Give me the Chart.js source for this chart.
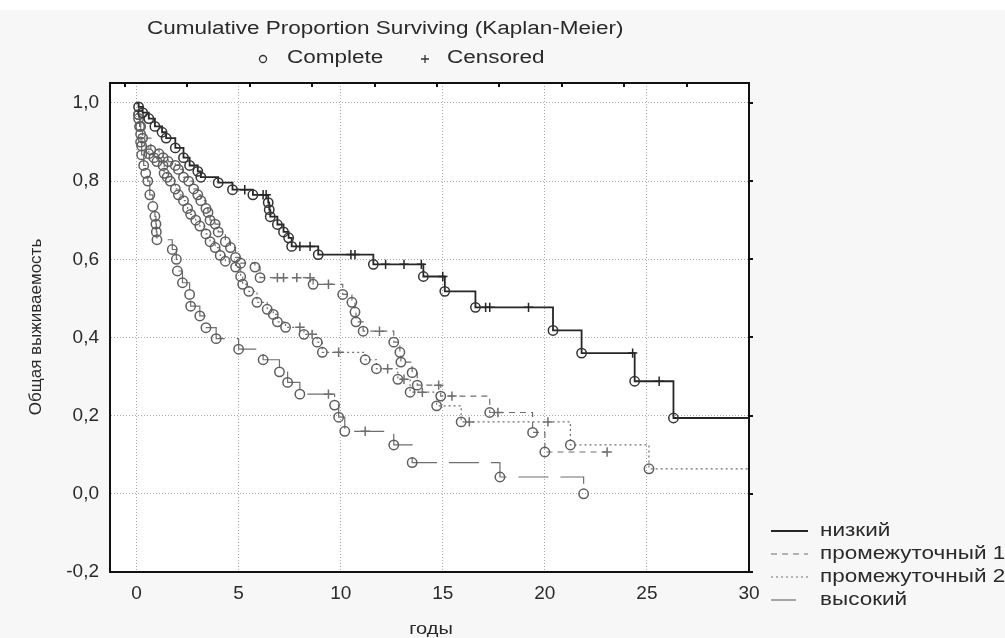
<!DOCTYPE html>
<html>
<head>
<meta charset="utf-8">
<script src="https://cdn.jsdelivr.net/npm/chart.js@4.4.0/dist/chart.umd.min.js"></script>
<style>
  html, body { margin: 0; padding: 0; background: #f7f7f7; }
  #wrap { width: 1005px; height: 638px; position: relative; }
</style>
</head>
<body>
<div id="wrap"><canvas id="km"></canvas></div>
<script>
// Kaplan-Meier data: time (years), survival, mark ('o' event, '+' censored, '' none)
const lowTime = [0, 0.1, 0.3, 0.6, 0.9, 1.25, 1.45, 1.9, 2.3, 2.6, 3.0, 3.15, 4.0, 4.7, 5.3, 5.7, 6.2, 6.35, 6.45, 6.5, 6.55, 6.9, 7.2, 7.45, 7.6, 8.0, 8.5, 8.9, 10.5, 10.7, 11.6, 12.2, 13.1, 13.95, 14.05, 15.0, 15.1, 16.6, 17.1, 17.3, 19.2, 20.4, 21.8, 24.3, 24.4, 25.6, 26.3, 30];
const lowSurv = [1.0, 0.99, 0.975, 0.96, 0.94, 0.925, 0.91, 0.885, 0.86, 0.84, 0.825, 0.81, 0.796, 0.778, 0.778, 0.765, 0.765, 0.765, 0.745, 0.727, 0.709, 0.689, 0.67, 0.655, 0.633, 0.633, 0.633, 0.612, 0.612, 0.612, 0.587, 0.587, 0.587, 0.587, 0.556, 0.556, 0.518, 0.477, 0.477, 0.477, 0.477, 0.418, 0.36, 0.36, 0.288, 0.288, 0.194, 0.194];
const lowMark = ['', 'o', 'o', 'o', 'o', 'o', 'o', 'o', 'o', 'o', 'o', 'o', 'o', 'o', '+', 'o', '+', '+', 'o', 'o', 'o', 'o', 'o', 'o', 'o', '+', '+', 'o', '+', '+', 'o', '+', '+', '+', 'o', '+', 'o', 'o', '+', '+', '+', 'o', 'o', '+', 'o', '+', 'o', ''];

const mid1Time = [0, 0.1, 0.2, 0.3, 0.7, 1.1, 1.3, 1.55, 1.9, 2.05, 2.3, 2.55, 2.8, 3.0, 3.15, 3.4, 3.5, 3.6, 3.85, 4.0, 4.35, 4.6, 4.85, 5.1, 5.8, 6.05, 6.9, 7.2, 7.85, 8.5, 8.65, 9.4, 10.1, 10.55, 10.7, 10.75, 11.1, 11.9, 12.6, 12.9, 12.95, 13.5, 13.75, 14.8, 14.9, 15.45, 17.3, 17.7, 19.4, 20.0, 23.05];
const mid1Surv = [1.0, 0.97, 0.94, 0.91, 0.88, 0.87, 0.86, 0.85, 0.84, 0.83, 0.81, 0.8, 0.78, 0.765, 0.75, 0.73, 0.72, 0.7, 0.69, 0.67, 0.645, 0.63, 0.605, 0.59, 0.58, 0.553, 0.553, 0.553, 0.553, 0.553, 0.536, 0.536, 0.51, 0.49, 0.465, 0.44, 0.416, 0.416, 0.388, 0.362, 0.337, 0.31, 0.278, 0.278, 0.25, 0.25, 0.208, 0.208, 0.157, 0.107, 0.107];
const mid1Mark = ['', 'o', 'o', 'o', 'o', 'o', 'o', 'o', 'o', 'o', 'o', 'o', 'o', 'o', 'o', 'o', 'o', 'o', 'o', 'o', 'o', 'o', 'o', 'o', 'o', 'o', '+', '+', '+', '+', 'o', '+', 'o', 'o', 'o', 'o', 'o', '+', 'o', 'o', 'o', 'o', 'o', '+', 'o', '+', 'o', '+', 'o', 'o', '+'];

const mid2Time = [0, 0.1, 0.2, 0.25, 0.6, 0.85, 1.0, 1.3, 1.35, 1.5, 1.65, 1.9, 2.05, 2.3, 2.5, 2.65, 2.9, 3.1, 3.4, 3.6, 3.85, 4.1, 4.35, 4.85, 5.1, 5.2, 5.5, 5.9, 6.4, 6.7, 6.9, 7.3, 8.0, 8.2, 8.6, 8.85, 9.1, 9.9, 11.2, 11.75, 12.3, 12.8, 13.1, 13.4, 14.0, 14.7, 15.9, 16.3, 20.15, 21.25, 25.1, 30];
const mid2Surv = [1.0, 0.96, 0.92, 0.89, 0.87, 0.86, 0.85, 0.84, 0.82, 0.81, 0.8, 0.78, 0.765, 0.75, 0.73, 0.715, 0.7, 0.685, 0.665, 0.645, 0.63, 0.61, 0.595, 0.58, 0.556, 0.536, 0.518, 0.49, 0.472, 0.459, 0.44, 0.426, 0.426, 0.408, 0.408, 0.388, 0.362, 0.362, 0.343, 0.32, 0.32, 0.293, 0.293, 0.26, 0.26, 0.225, 0.184, 0.184, 0.184, 0.125, 0.064, 0.064];
const mid2Mark = ['', 'o', 'o', 'o', 'o', 'o', 'o', 'o', 'o', 'o', 'o', 'o', 'o', 'o', 'o', 'o', 'o', 'o', 'o', 'o', 'o', 'o', 'o', 'o', 'o', 'o', 'o', 'o', 'o', 'o', 'o', 'o', '+', 'o', '+', 'o', 'o', '+', 'o', 'o', '+', 'o', '+', 'o', '+', 'o', 'o', '+', '+', 'o', 'o', ''];

const highTime = [0, 0.1, 0.15, 0.2, 0.25, 0.35, 0.45, 0.55, 0.65, 0.8, 0.9, 0.95, 0.97, 1.0, 1.75, 1.95, 2.0, 2.25, 2.6, 2.65, 3.1, 3.4, 3.9, 5.0, 6.2, 7.0, 7.4, 8.0, 9.4, 9.7, 9.9, 10.2, 11.2, 12.6, 13.5, 17.8, 21.9];
const highSurv = [1.0, 0.97, 0.94, 0.9, 0.867, 0.84, 0.82, 0.8, 0.765, 0.735, 0.71, 0.69, 0.67, 0.65, 0.625, 0.6, 0.57, 0.54, 0.51, 0.48, 0.455, 0.425, 0.397, 0.37, 0.343, 0.312, 0.285, 0.255, 0.255, 0.227, 0.196, 0.16, 0.16, 0.125, 0.08, 0.043, 0.0];
const highMark = ['', 'o', 'o', 'o', 'o', 'o', 'o', 'o', 'o', 'o', 'o', 'o', 'o', 'o', 'o', 'o', 'o', 'o', 'o', 'o', 'o', 'o', 'o', 'o', 'o', 'o', 'o', 'o', '+', 'o', 'o', 'o', '+', 'o', 'o', 'o', 'o'];

const groupNames = ['низкий', 'промежуточный 1', 'промежуточный 2', 'высокий'];
const xTicks = [0, 5, 10, 15, 20, 25, 30];
const yTicks = [-0.2, 0, 0.2, 0.4, 0.6, 0.8, 1.0];
const topTicks = [0, 1, 2, 3, 4, 5, 6, 7, 8, 9, 10];

const FONT = "'Liberation Sans', Arial, sans-serif";
const STRETCH = 1.25; // the original text is drawn wide

function kmDataset(label, times, surv, marks, color, markColor, width, dash) {
  return {
    label: label,
    data: times.map((t, i) => ({ x: t, y: surv[i] })),
    stepped: 'before',
    borderColor: color,
    borderWidth: width,
    borderDash: dash,
    fill: false,
    pointStyle: marks.map(m => m === '+' ? 'cross' : 'circle'),
    pointRadius: marks.map(m => m ? 4.7 : 0),
    pointBorderColor: marks.map(m => m === '+' ? color : markColor),
    pointBackgroundColor: 'rgba(0,0,0,0)',
    pointBorderWidth: 1.5
  };
}

function wideText(ctx, text, x, y, align) {
  ctx.save();
  ctx.translate(x, y);
  ctx.scale(STRETCH, 1);
  ctx.textAlign = align;
  ctx.fillText(text, 0, 0);
  ctx.restore();
}

const decorPlugin = {
  id: 'decor',
  beforeDraw(chart) {
    const { ctx, chartArea: a } = chart;
    ctx.save();
    ctx.fillStyle = '#ffffff';
    ctx.fillRect(0, 0, chart.width, 10);
    ctx.fillRect(a.left, a.top, a.right - a.left, a.bottom - a.top);
    ctx.restore();
  },
  afterDraw(chart) {
    const { ctx } = chart;
    ctx.save();
    ctx.fillStyle = '#2a2a2a';
    ctx.textBaseline = 'middle';
    ctx.font = '18px ' + FONT;
    wideText(ctx, 'Cumulative Proportion Surviving (Kaplan-Meier)', 147, 29, 'left');
    // marker legend
    ctx.strokeStyle = '#333';
    ctx.lineWidth = 1.3;
    ctx.beginPath();
    ctx.arc(263, 59, 3.5, 0, Math.PI * 2);
    ctx.stroke();
    wideText(ctx, 'Complete', 287, 58, 'left');
    ctx.beginPath();
    ctx.moveTo(421, 59); ctx.lineTo(429, 59);
    ctx.moveTo(425, 55); ctx.lineTo(425, 63);
    ctx.stroke();
    wideText(ctx, 'Censored', 447, 58, 'left');

    // axis titles
    ctx.font = '16px ' + FONT;
    wideText(ctx, 'годы', 431, 630, 'center');
    ctx.save();
    ctx.font = '17px ' + FONT;
    ctx.translate(36, 327);
    ctx.rotate(-Math.PI / 2);
    ctx.textAlign = 'center';
    ctx.fillText('Общая выживаемость', 0, 0);
    ctx.restore();

    // group legend
    ctx.font = '18px ' + FONT;
    const styles = chart.data.datasets;
    const rows = [531, 554, 577, 600];
    styles.forEach((ds, i) => {
      ctx.save();
      ctx.strokeStyle = ds.borderColor;
      ctx.lineWidth = ds.borderWidth;
      ctx.setLineDash(i === 3 ? [] : ds.borderDash);
      ctx.beginPath();
      ctx.moveTo(771, rows[i]);
      ctx.lineTo(i === 3 ? 796 : 808, rows[i]);
      ctx.stroke();
      ctx.restore();
      wideText(ctx, groupNames[i], 820, rows[i], 'left');
    });
    ctx.restore();
  }
};

new Chart(document.getElementById('km'), {
  type: 'line',
  data: {
    datasets: [
      kmDataset(groupNames[0], lowTime, lowSurv, lowMark, '#262626', '#333333', 1.8, []),
      kmDataset(groupNames[1], mid1Time, mid1Surv, mid1Mark, '#6e6e6e', '#5e5e5e', 1.2, [6, 5]),
      kmDataset(groupNames[2], mid2Time, mid2Surv, mid2Mark, '#6e6e6e', '#5e5e5e', 1.2, [2, 3]),
      kmDataset(groupNames[3], highTime, highSurv, highMark, '#6e6e6e', '#5e5e5e', 1.2, [30, 12])
    ]
  },
  options: {
    responsive: true,
    maintainAspectRatio: false,
    animation: false,
    layout: { padding: 0 },
    plugins: { legend: { display: false }, tooltip: { enabled: false } },
    scales: {
      x: {
        type: 'linear', position: 'bottom', min: -1.3, max: 30,
        afterBuildTicks: s => { s.ticks = xTicks.map(v => ({ value: v })); },
        afterFit: s => { s.height = 66; },
        grid: { color: '#a8a8a8', drawTicks: false },
        border: { color: '#111', width: 2, dash: [1, 2] },
        ticks: { color: '#2a2a2a', padding: 10, font: { family: FONT, size: 19 } }
      },
      x2: {
        type: 'linear', position: 'top', min: -0.24, max: 10,
        afterBuildTicks: s => { s.ticks = topTicks.map(v => ({ value: v })); },
        afterFit: s => { s.height = 83; },
        grid: { drawOnChartArea: false, color: '#111', tickLength: -4, lineWidth: 2 },
        border: { color: '#111', width: 2 },
        ticks: { display: false }
      },
      y: {
        type: 'linear', position: 'left', min: -0.2, max: 1.051,
        afterBuildTicks: s => { s.ticks = yTicks.map(v => ({ value: v })); },
        afterFit: s => { s.width = 110; },
        grid: { color: '#a8a8a8', drawTicks: false },
        border: { color: '#111', width: 2, dash: [1, 2] },
        ticks: {
          color: '#2a2a2a', padding: 11, font: { family: FONT, size: 19 },
          callback: v => v.toFixed(1).replace('.', ',')
        }
      },
      y2: {
        type: 'linear', position: 'right', min: -0.2, max: 1.051,
        afterBuildTicks: s => { s.ticks = yTicks.map(v => ({ value: v })); },
        afterFit: s => { s.width = 256; },
        grid: { drawOnChartArea: false, color: '#111', tickLength: 4, lineWidth: 2 },
        border: { color: '#111', width: 2 },
        ticks: { display: false }
      }
    }
  },
  plugins: [decorPlugin]
});
</script>
</body>
</html>
